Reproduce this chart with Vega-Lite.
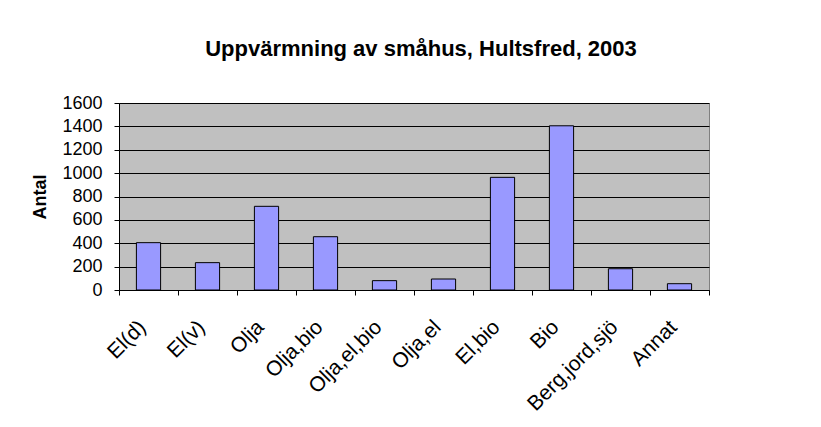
{
  "$schema": "https://vega.github.io/schema/vega-lite/v6.json",
  "autosize": {"type": "none"},
  "width": 590,
  "height": 187,
  "padding": {"left": 119, "top": 103, "right": 112, "bottom": 137},
  "background": "white",
  "title": {
    "text": "Uppvärmning av småhus, Hultsfred, 2003",
    "font": "Liberation Sans",
    "fontSize": 22,
    "fontWeight": "bold",
    "color": "black",
    "anchor": "middle",
    "baseline": "alphabetic",
    "offset": 16,
    "dx": 7
  },
  "data": {
    "values": [
      {"typ": "El(d)", "antal": 405},
      {"typ": "El(v)", "antal": 234},
      {"typ": "Olja", "antal": 716},
      {"typ": "Olja,bio", "antal": 456},
      {"typ": "Olja,el,bio", "antal": 80},
      {"typ": "Olja,el", "antal": 94},
      {"typ": "El,bio", "antal": 964},
      {"typ": "Bio", "antal": 1405},
      {"typ": "Berg,jord,sjö", "antal": 182},
      {"typ": "Annat", "antal": 54}
    ]
  },
  "mark": {"type": "bar", "color": "#9999FF", "stroke": "black", "strokeWidth": 1, "width": {"band": 0.41}},
  "encoding": {
    "x": {
      "field": "typ",
      "type": "nominal",
      "sort": null,
      "scale": {"paddingInner": 0, "paddingOuter": 0},
      "axis": {
        "title": null,
        "labelAngle": -45,
        "labelAlign": "right",
        "labelBaseline": "top",
        "labelFont": "Liberation Sans",
        "labelFontSize": 21,
        "labelColor": "black",
        "labelPadding": 21,
        "labelOffset": -14,
        "tickBand": "extent",
        "tickColor": "black",
        "tickSize": 5,
        "domainColor": "black",
        "grid": false
      }
    },
    "y": {
      "field": "antal",
      "type": "quantitative",
      "scale": {"domain": [0, 1600], "nice": false},
      "axis": {
        "title": "Antal",
        "titleFont": "Liberation Sans",
        "titleFontSize": 18,
        "titleFontWeight": "bold",
        "titleColor": "black",
        "titlePadding": 12,
        "values": [0, 200, 400, 600, 800, 1000, 1200, 1400, 1600],
        "format": "d",
        "labelFont": "Liberation Sans",
        "labelFontSize": 18,
        "labelColor": "black",
        "labelPadding": 12,
        "tickColor": "black",
        "tickSize": 5,
        "domainColor": "black",
        "gridColor": "black",
        "gridOpacity": 1
      }
    }
  },
  "config": {
    "view": {"fill": "#C0C0C0", "stroke": "#808080"}
  }
}
